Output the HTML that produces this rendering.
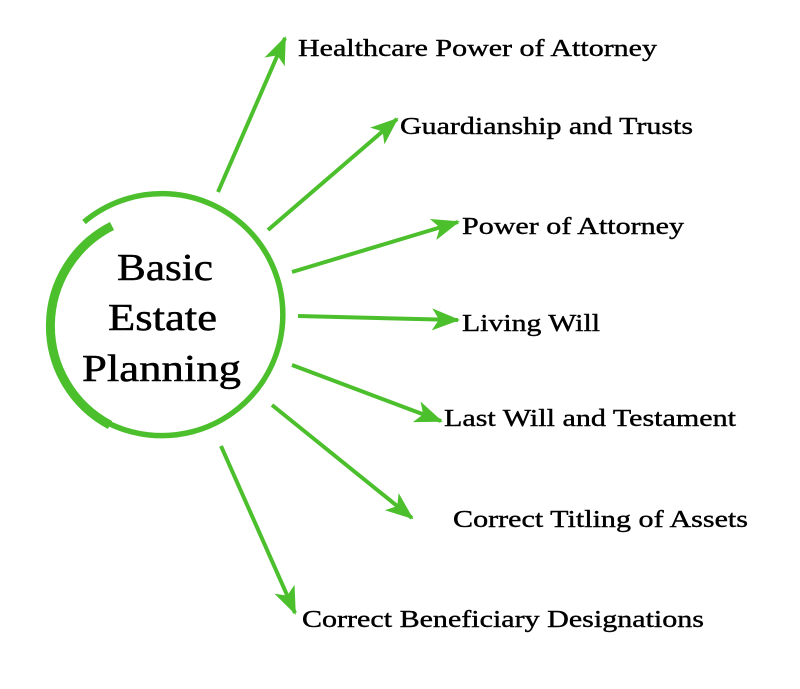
<!DOCTYPE html>
<html><head><style>
html,body{margin:0;padding:0;background:#fff;}
svg{display:block;}
.t{font-family:"Liberation Serif","Times New Roman","DejaVu Serif",serif;}
</style></head><body>
<svg width="800" height="689" viewBox="0 0 800 689">
<defs>
<marker id="a" viewBox="0 0 28 22" refX="26" refY="11" markerWidth="28" markerHeight="22" markerUnits="userSpaceOnUse" orient="auto">
<path d="M0,0 L28,11 L0,22 L7,11 Z" fill="#4cbf2c"/>
</marker>
</defs>
<g fill="none" stroke="#4cbf2c" stroke-linecap="butt">
<path d="M112,226 A112,112 0 0 0 110,425" stroke-width="9"/>
<path d="M108,423 A121,121 0 1 0 84,222" stroke-width="5.5"/>
</g>
<g stroke="#4cbf2c" stroke-width="4" marker-end="url(#a)">
<line x1="218" y1="192" x2="285" y2="38"/>
<line x1="268" y1="230" x2="397" y2="119"/>
<line x1="292" y1="272" x2="458" y2="222"/>
<line x1="298" y1="316" x2="458" y2="320"/>
<line x1="292" y1="365" x2="441" y2="421"/>
<line x1="272" y1="405" x2="412" y2="518"/>
<line x1="221" y1="446" x2="295" y2="613"/>
</g>
<g class="t" font-size="38" fill="#000" stroke="#000" stroke-width="0.5">
<text class="t" x="117" y="280" textLength="96" lengthAdjust="spacingAndGlyphs">Basic</text>
<text class="t" x="108" y="330" textLength="109" lengthAdjust="spacingAndGlyphs">Estate</text>
<text class="t" x="82" y="381" textLength="159" lengthAdjust="spacingAndGlyphs">Planning</text>
</g>
<g class="t" font-size="24" fill="#000" stroke="#000" stroke-width="0.4">
<text class="t" x="298" y="56" textLength="359" lengthAdjust="spacingAndGlyphs">Healthcare Power of Attorney</text>
<text class="t" x="400" y="134" textLength="293" lengthAdjust="spacingAndGlyphs">Guardianship and Trusts</text>
<text class="t" x="462" y="234" textLength="222" lengthAdjust="spacingAndGlyphs">Power of Attorney</text>
<text class="t" x="462" y="331" textLength="138" lengthAdjust="spacingAndGlyphs">Living Will</text>
<text class="t" x="444" y="426" textLength="292" lengthAdjust="spacingAndGlyphs">Last Will and Testament</text>
<text class="t" x="453" y="527" textLength="295" lengthAdjust="spacingAndGlyphs">Correct Titling of Assets</text>
<text class="t" x="302" y="627" textLength="402" lengthAdjust="spacingAndGlyphs">Correct Beneficiary Designations</text>
</g>
</svg>
</body></html>
